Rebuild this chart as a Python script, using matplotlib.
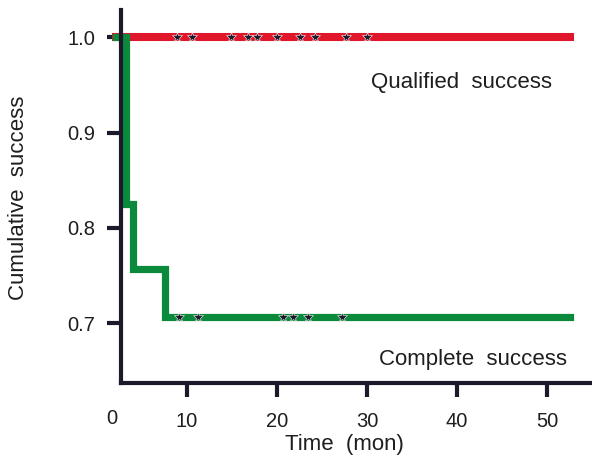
import numpy as np
import matplotlib.pyplot as plt

plt.rcParams['font.family'] = ['Liberation Sans', 'DejaVu Sans']

# Kaplan-Meier steps (time in months, cumulative success)
complete_t = [2.1, 3.2, 3.95, 7.55, 52.5]
complete_s = [1.0, 0.825, 0.757, 0.707, 0.707]
qualified_t = [2.1, 52.5]
qualified_s = [1.0, 1.0]

# censored observations
qual_cens = [8.86, 10.52, 14.86, 16.81, 17.74, 19.97, 22.56, 24.22, 27.67, 29.97]
comp_cens = [9.14, 11.19, 20.63, 21.81, 23.48, 27.19]

xticks = [10, 20, 30, 40, 50]
yticks = [0.7, 0.8, 0.9, 1.0]

W, H = 592, 461
fig = plt.figure(figsize=(W / 100, H / 100), dpi=100)
ax = fig.add_axes([120.5 / W, (H - 383) / H, (590 - 120.5) / W, (383 - 10) / H])

red = '#e0162b'
green = '#0b8a3b'
dark = '#1c1a2a'
txt = '#1e1e1e'

ax.step(qualified_t, qualified_s, where='post', color=red, lw=5.8, clip_on=False,
        zorder=2, solid_joinstyle='miter')
ax.step(complete_t, complete_s, where='post', color=green, lw=5.2, clip_on=False,
        zorder=2.1, solid_joinstyle='miter')

ax.plot(qual_cens, [1.0] * len(qual_cens), ls='none', marker='*', ms=7.5,
        mfc=dark, mec='white', mew=0.4, zorder=3, clip_on=False)
ax.plot(comp_cens, [0.707] * len(comp_cens), ls='none', marker='*', ms=7.5,
        mfc=dark, mec='white', mew=0.4, zorder=3, clip_on=False)

ax.set_xlim((120.5 - 97) / 9, (590 - 97) / 9)
ax.set_ylim(0.6374, 1.0286)

ax.set_xticks(xticks)
ax.set_yticks(yticks)
ax.set_yticklabels(['0.7', '0.8', '0.9', '1.0'])
ax.tick_params(axis='both', direction='out', length=10, width=3, color=dark,
               labelsize=14.5, labelcolor=txt)
ax.tick_params(axis='x', pad=11)
ax.tick_params(axis='y', pad=8)
ax.text(1.7, -0.094, '0', transform=ax.get_xaxis_transform(), ha='center', va='center',
        fontsize=14.5, color=txt, clip_on=False)

for s in ['top', 'right']:
    ax.spines[s].set_visible(False)
for s in ['left', 'bottom']:
    ax.spines[s].set_linewidth(3)
    ax.spines[s].set_color(dark)
    ax.spines[s].set_zorder(2.5)

ax.set_xlabel('Time  (mon)', fontsize=16, color=txt, va='center')
ax.xaxis.set_label_coords(0.478, -0.166)
ax.set_ylabel('Cumulative  success', fontsize=16, color=txt, va='center')
ax.yaxis.set_label_coords(-0.218, 0.496)

ax.text(40.5, 0.953, 'Qualified  success', fontsize=16, color=txt, ha='center', va='center')
ax.text(41.8, 0.6625, 'Complete  success', fontsize=16, color=txt, ha='center', va='center')

fig.savefig('out.png', dpi=100)
